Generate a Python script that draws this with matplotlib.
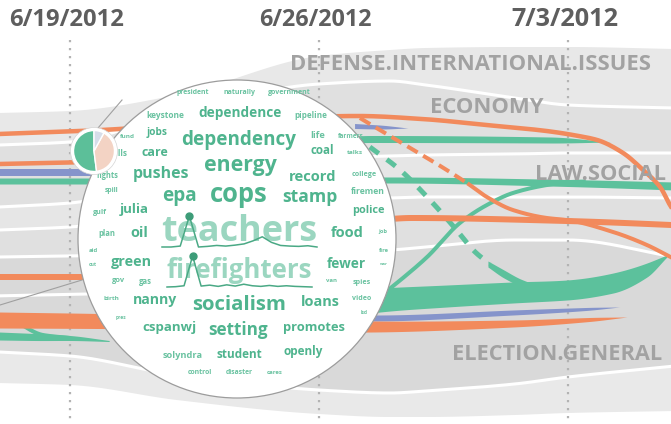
import numpy as np
import matplotlib
matplotlib.use('Agg')
import matplotlib.pyplot as plt
from matplotlib.patches import Circle

plt.rcParams['font.family'] = ['Open Sans', 'DejaVu Sans']

# ==========================================
# Topic flow (x = days after 6/19/2012, y = pixels from top)
# ==========================================
DATE_LABELS = ['6/19/2012', '6/26/2012', '7/3/2012']
DATE_DAYS = [0, 7, 14]

TOPICS = ['DEFENSE.INTERNATIONAL.ISSUES', 'ECONOMY', 'LAW.SOCIAL', 'ELECTION.GENERAL']

# --- gray topic stream, edges sampled at STREAM_DAYS ---
STREAM_DAYS = [-2, 0, 3, 7, 9, 10, 12.5, 14, 17]
EDGE_TOP = [113, 111, 95, 56, 50, 48, 47, 47, 49]
EDGE_DEF_ECO = [145, 142, 112, 84, 81, 85, 98, 105, 108]
EDGE_ECO_LAW = [207, 203, 180, 158, 156, 155, 154, 153, 153]
EDGE_LAW_MID = [230, 227, 212, 200, 198, 197, 197, 197, 198]
EDGE_LAW_ELE = [257, 256, 254, 252, 250, 247, 240, 240, 257]
EDGE_ELE_OTH = [352, 356, 375, 390, 393, 391, 384, 377, 366]
EDGE_BOTTOM = [383, 385, 400, 414, 417, 417, 415, 413, 411]
BAND_COLORS = ['#e8e8e8', '#e0e0e0', '#e6e6e6', '#e0e0e0', '#d9d9d9', '#e9e9e9']

# --- coloured keyword flows ---
ECO_ORANGE_DAYS = [-2, 0.3, 8.1, 9.9, 11.7, 13.4, 14.3, 14.82, 15.55, 16.11, 16.59, 16.9, 17.43]
ECO_ORANGE_Y = [134, 131, 116, 119, 125, 131, 136, 140, 153, 170, 187, 207, 232]

DROP_ORANGE_DAYS = [8.15, 11.16, 11.72, 12.45, 13.41, 13.97, 15.27, 16.22, 16.67, 17.15]
DROP_ORANGE_Y = [118, 183, 197, 210, 218, 220, 232, 245, 253, 262]

LAW_ORANGE_DAYS = [-2, -0.2, 0.3, 9.0, 9.6, 13.97, 16.9, 17.5]
LAW_ORANGE_Y = [277, 277, 277, 219, 218, 221, 225, 226]

LEFT_ORANGE_DAYS = [-2, 0.6]
LEFT_ORANGE_Y = [164, 162]

ELE_ORANGE_DAYS = [-2, 0.8, 8.5, 12.45, 14.6, 15.66]
ELE_ORANGE_Y = [320, 321, 326.5, 323.5, 319.5, 317]
ELE_ORANGE_W = [16, 15, 11, 7, 4, 0]

ELE_BLUE_DAYS = [-2, 0.5, 8.5, 12.45, 14.5, 15.45]
ELE_BLUE_Y = [172, 172, 318, 312.5, 309, 307]
ELE_BLUE_W = [7, 7, 6, 5, 3, 0]

ECO_BLUE_DAYS = [8.0, 8.7, 9.5]
ECO_BLUE_Y = [126, 127, 128]
ECO_BLUE_W = [5, 4, 0]

ECO_GREEN_DAYS = [-2, 0.5, 8.5, 13.5, 15.2]
ECO_GREEN_Y = [181, 181, 139, 140, 142]
ECO_GREEN_W = [6, 6, 7, 6, 0]

LAW_GREEN_DAYS = [6.5, 9.0, 14.0, 17.0]
LAW_GREEN_Y = [180, 180, 183, 186]
LAW_GREEN_W = [6, 6, 7, 8]

RISE_GREEN_DAYS = [8.6, 9.19, 10.04, 10.96, 11.72, 12.45, 13.41, 14.06, 14.5]
RISE_GREEN_Y = [300, 283, 257, 223, 205, 193, 185, 182, 181.5]

DASH_GREEN_DAYS = [8.43, 9.28, 10.12, 10.82, 11.39, 11.8]
DASH_GREEN_Y = [147, 170, 200, 228, 252, 264]

HOOK_GREEN_DAYS = [11.75, 12.2, 12.7, 13.3]
HOOK_GREEN_Y = [264, 274, 283, 289]
HOOK_GREEN_W = [6, 8, 7, 3]

ELE_GREEN_DAYS = [8.43, 8.72, 10.6, 12.45, 13.97, 15.27, 16.22, 16.78]
ELE_GREEN_Y = [301, 300, 296, 292.5, 290, 283, 270, 256]
ELE_GREEN_W = [25, 24, 22, 21, 20, 20, 14, 2]

LEFT_GREEN_DAYS = [-2, -1.0, 0.0, 1.1]
LEFT_GREEN_Y = [336, 337, 338, 341]
LEFT_GREEN_W = [8, 7, 5, 1]

BRANCH_GREEN_DAYS = [-1.97, -1.77, -0.76, 0.0]
BRANCH_GREEN_Y = [315, 317, 335, 338]

# --- word cloud of the selected time point ---
WORDS = ['president', 'naturally', 'government', 'keystone', 'dependence', 'pipeline',
         'fund', 'jobs', 'dependency', 'life', 'farmers', 'bills', 'care', 'coal', 'talks',
         'energy', 'rights', 'pushes', 'record', 'college', 'spill', 'epa', 'cops', 'stamp',
         'firemen', 'gulf', 'julia', 'police', 'plan', 'oil', 'teachers', 'food', 'job',
         'aid', 'fire', 'cut', 'green', 'firefighters', 'fewer', 'war', 'gov', 'gas', 'van',
         'spies', 'birth', 'nanny', 'socialism', 'loans', 'video', 'lsd', 'pres', 'cspanwj',
         'setting', 'promotes', 'solyndra', 'student', 'openly', 'control', 'disaster', 'cares']
TRENDING_WORDS = ['teachers', 'firefighters']
TEACHERS_TREND = [0, 0, 0.03, 1.0, 0.0, 0.02, 0.05, 0.03, 0.06, 0.1, 0.2, 0.33, 0.15,
                  0.05, 0.03, 0.02, 0.04, 0.0]
FIREFIGHTERS_TREND = [0, 0.01, 0.04, 1.0, 0.03, 0.06, 0.02, 0.07, 0.03, 0.09, 0.04, 0.02,
                      0.05, 0.02, 0.04, 0.02, 0.01, 0]

# sentiment pie of the selected word
PIE_SHARES = [0.52, 0.40, 0.08]
PIE_COLORS = ['#5cbf99', '#f3d3c4', '#d6dde9']

# --- layout (pixels) ---
WORD_POS = [(193, 93, 33), (239, 93, 32), (289, 93, 43), (165, 116, 38), (240, 113, 83),
            (311, 116, 33), (127, 137, 15), (157, 133, 21), (239, 140, 115), (318, 135, 15),
            (351, 136, 26), (118.5, 153, 17), (155, 152, 27), (322, 151, 24), (355, 153, 16),
            (240, 165, 73), (107, 175, 22), (161, 174, 56), (313, 177, 48), (364, 174, 25),
            (112, 190, 14), (179, 196, 35), (239, 194, 58), (310, 197, 55), (368, 192, 34),
            (100, 213, 14), (134, 209, 29), (368, 211, 33), (107, 233, 17), (139, 233, 18),
            (239, 232, 157), (347, 233, 33), (383, 232, 9), (93, 251, 9), (384, 251, 10),
            (93, 265, 8), (131, 262, 41), (239, 270, 146), (346, 264, 39), (384, 264, 8),
            (119, 281, 13), (145, 281, 13), (332, 281, 11), (362, 282, 18), (111, 299, 16),
            (155, 300, 44), (239, 305, 94), (320, 302, 39), (362, 299, 19), (364, 313, 7),
            (121, 318, 11), (169, 328, 54), (238, 330, 60), (314, 327, 62), (183, 355, 40),
            (239, 355, 46), (303, 351, 40), (200, 373, 25), (239, 373, 27), (275, 372, 16)]
SPARK_BOX = {'teachers': (162, 317, 247, 31), 'firefighters': (167, 312, 287, 31)}
TOPIC_POS = [(6.18, 69.5, 362), (10.12, 113, 114), (13.07, 180, 132), (10.74, 360, 211)]
DATE_WIDTHS = [114, 112, 107]
LENS_LINES = [((0, 82), (305, 280)), ((98, 122), (128, 100))]

ORANGE = '#f28a5c'
GREEN = '#5cc19c'
BLUE = '#8594cb'
PX = 0.72  # pixel -> point at 100 dpi


def pchip(xs, ys, xq):
    """Monotone cubic through the sampled points."""
    xs = np.asarray(xs, float)
    ys = np.asarray(ys, float)
    h = np.diff(xs)
    d = np.diff(ys) / h
    m = np.zeros_like(ys)
    m[0], m[-1] = d[0], d[-1]
    for k in range(1, len(xs) - 1):
        if d[k - 1] * d[k] > 0:
            w1, w2 = 2 * h[k] + h[k - 1], h[k] + 2 * h[k - 1]
            m[k] = (w1 + w2) / (w1 / d[k - 1] + w2 / d[k])
    i = np.clip(np.searchsorted(xs, xq) - 1, 0, len(xs) - 2)
    t = (xq - xs[i]) / h[i]
    return ((2 * t**3 - 3 * t**2 + 1) * ys[i] + (t**3 - 2 * t**2 + t) * h[i] * m[i]
            + (-2 * t**3 + 3 * t**2) * ys[i + 1] + (t**3 - t**2) * h[i] * m[i + 1])


def draw_band(days, centre, width, color, z=4):
    x = np.linspace(days[0], days[-1], 400)
    c = pchip(days, centre, x)
    w = np.clip(pchip(days, width, x), 0, None)
    ax.fill_between(x, c - w / 2, c + w / 2, color=color, lw=0, zorder=z)


def draw_line(days, ys, width_px, color, ls='-', z=4):
    x = np.linspace(days[0], days[-1], 400)
    ax.plot(x, pchip(days, ys, x), color=color, lw=width_px * PX, ls=ls, zorder=z,
            solid_capstyle='butt', dash_capstyle='butt')


def fit_width(txt, width_px):
    bb = txt.get_window_extent(renderer=renderer)
    txt.set_fontsize(txt.get_fontsize() * width_px / bb.width)


fig = plt.figure(figsize=(6.71, 4.24), dpi=100)
renderer = fig.canvas.get_renderer()
ax = fig.add_axes([0, 0, 1, 1])
ax.set_xlim(-70 / 35.57, 601 / 35.57)
ax.set_ylim(424, 0)
ax.axis('off')

# gray streams
xq = np.linspace(-2.2, 17.5, 800)
edges = [pchip(STREAM_DAYS, e, xq) for e in
         [EDGE_TOP, EDGE_DEF_ECO, EDGE_ECO_LAW, EDGE_LAW_MID, EDGE_LAW_ELE, EDGE_ELE_OTH, EDGE_BOTTOM]]
for k in range(len(edges) - 1):
    ax.fill_between(xq, edges[k], edges[k + 1], color=BAND_COLORS[k], lw=0, zorder=1)
for e in edges[1:-1]:
    ax.plot(xq, e, color='white', lw=2.2, zorder=2)
ax.plot([-2.2, 0.5], [296, 294], color='white', lw=2.2, zorder=2)

# date guides
for d in DATE_DAYS:
    ax.plot([d, d], [40, 424], color='#b3b3b3', lw=1.6, ls=(0, (1, 2.6)), zorder=3)

# flows
draw_band(ELE_GREEN_DAYS, ELE_GREEN_Y, ELE_GREEN_W, GREEN)
draw_band(HOOK_GREEN_DAYS, HOOK_GREEN_Y, HOOK_GREEN_W, GREEN)
draw_line(DASH_GREEN_DAYS, DASH_GREEN_Y, 5, GREEN, ls=(0, (2.2, 2.0)))
draw_line(RISE_GREEN_DAYS, RISE_GREEN_Y, 4, GREEN)
draw_band(LAW_GREEN_DAYS, LAW_GREEN_Y, LAW_GREEN_W, GREEN)
draw_band(ECO_GREEN_DAYS, ECO_GREEN_Y, ECO_GREEN_W, GREEN)
draw_band(LEFT_GREEN_DAYS, LEFT_GREEN_Y, LEFT_GREEN_W, GREEN)
draw_line(BRANCH_GREEN_DAYS, BRANCH_GREEN_Y, 4, GREEN)
draw_band(ELE_BLUE_DAYS, ELE_BLUE_Y, ELE_BLUE_W, BLUE)
draw_band(ECO_BLUE_DAYS, ECO_BLUE_Y, ECO_BLUE_W, BLUE)
draw_band(ELE_ORANGE_DAYS, ELE_ORANGE_Y, ELE_ORANGE_W, ORANGE, z=5)
draw_band(LAW_ORANGE_DAYS, LAW_ORANGE_Y, [6] * len(LAW_ORANGE_DAYS), ORANGE, z=5)
draw_line(LEFT_ORANGE_DAYS, LEFT_ORANGE_Y, 4.5, ORANGE, z=5)
draw_line(ECO_ORANGE_DAYS, ECO_ORANGE_Y, 4.5, ORANGE, z=5)
xb = np.linspace(DROP_ORANGE_DAYS[0], DROP_ORANGE_DAYS[-1], 400)
yb = pchip(DROP_ORANGE_DAYS, DROP_ORANGE_Y, xb)
cut = xb <= DROP_ORANGE_DAYS[1]
ax.plot(xb[cut], yb[cut], color=ORANGE, lw=4 * PX, ls=(0, (3, 1.6)), zorder=5)
ax.plot(xb[~cut], yb[~cut], color=ORANGE, lw=4 * PX, zorder=5, solid_capstyle='butt')

# topic labels
for name, (d, y, w) in zip(TOPICS, TOPIC_POS):
    t = ax.text(d, y, name, ha='left', va='baseline', fontsize=14, fontweight='bold',
                color='#a2a2a2', zorder=6)
    fit_width(t, w)

# date labels
for name, d, w in zip(DATE_LABELS, DATE_DAYS, DATE_WIDTHS):
    t = ax.text(d - 0.1, 26, name, ha='center', va='baseline', fontsize=12,
                fontweight='bold', color='#5e5e5e', zorder=6)
    fit_width(t, w)

# --- lens with word cloud ---
cx = fig.add_axes([0, 0, 1, 1])
cx.set_xlim(0, 671)
cx.set_ylim(424, 0)
cx.axis('off')
for xs, ys in LENS_LINES:
    cx.plot(xs, ys, color='#a0a0a0', lw=0.8, zorder=0)
cx.add_patch(Circle((237, 239), 159, facecolor='white', edgecolor='#9c9c9c', lw=0.9, zorder=1))

for word, (x, y, w) in zip(WORDS, WORD_POS):
    t = cx.text(x, y, word, ha='center', va='center', fontsize=10, fontweight='bold',
                color='#4fb48e', zorder=2)
    fit_width(t, w)
    if word in TRENDING_WORDS:
        t.set_color('#9bd6c0')
    elif t.get_fontsize() < 7:
        t.set_color('#69c2a0')

for word, trend in zip(TRENDING_WORDS, [TEACHERS_TREND, FIREFIGHTERS_TREND]):
    x0, x1, base, height = SPARK_BOX[word]
    sx = np.linspace(x0, x1, len(trend))
    sy = base - np.array(trend) * height
    cx.plot(sx, sy, color='#4aa985', lw=1.1, zorder=3)
    top = int(np.argmax(trend))
    cx.plot(sx[top], sy[top], 'o', color='#3d9c78', ms=5, zorder=4)

# sentiment pie
px_, py_, pr = 94, 151, 26
pa = fig.add_axes([(px_ - pr) / 671, (424 - py_ - pr) / 424, 2 * pr / 671, 2 * pr / 424])
pa.add_patch(Circle((0, 0), 23.5, facecolor='white', edgecolor='#d4d4d4', lw=0.5))
pa.pie(PIE_SHARES, colors=PIE_COLORS, startangle=90, counterclock=True, radius=20.5,
       wedgeprops=dict(edgecolor='white', linewidth=1.0))
pa.set_xlim(-pr, pr)
pa.set_ylim(-pr, pr)
pa.set_aspect('equal')
pa.axis('off')

fig.savefig('out.png', dpi=100)
